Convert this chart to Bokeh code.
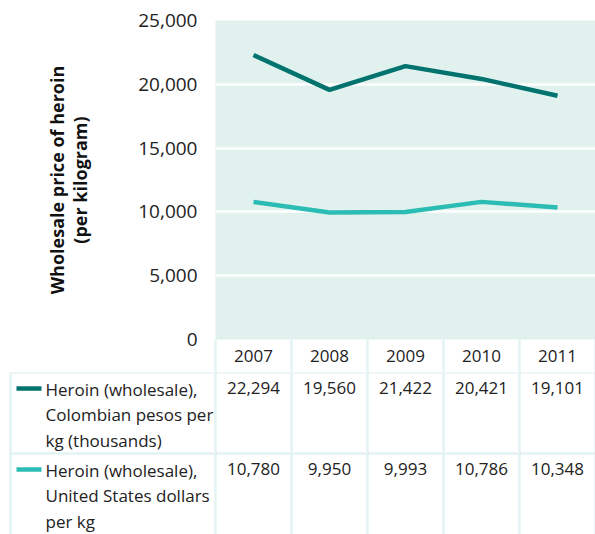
from bokeh.plotting import figure
from bokeh.models import FixedTicker, NumeralTickFormatter, Range1d
from bokeh.core.properties import value
from bokeh.embed import file_html
from bokeh.resources import INLINE

# ---------------- data ----------------
years = ["2007", "2008", "2009", "2010", "2011"]
cop_thousands = [22294, 19560, 21422, 20421, 19101]
usd = [10780, 9950, 9993, 10786, 10348]
series_labels = [
    "Heroin (wholesale),\nColombian pesos per\nkg (thousands)",
    "Heroin (wholesale),\nUnited States dollars\nper kg",
]
y_ticks = [0, 5000, 10000, 15000, 20000, 25000]
y_title = "Wholesale price of heroin\n(per kilogram)"

# ---------------- style ----------------
FONT = "Open Sans"
COLORS = ["#00736f", "#2bbcb3"]
BG = "#e1f2ee"
RULE = "#e3f2f2"
TXT = "#222222"

W = 595
LEFT = 215
TOP = 20
PLOT_H = 319
YEAR_ROW = 33
H1 = TOP + PLOT_H + YEAR_ROW
H2 = 534 - H1
ROW_H = 81

xs = list(range(len(years)))

p = figure(width=W, height=H1, x_range=Range1d(-0.5, len(years) - 0.5),
           y_range=Range1d(y_ticks[0], y_ticks[-1]),
           output_backend="svg", toolbar_location=None,
           min_border_left=LEFT, min_border_right=0, min_border_top=TOP,
           min_border_bottom=YEAR_ROW)
p.background_fill_color = BG
p.border_fill_color = "white"
p.outline_line_color = None
p.xgrid.grid_line_color = None
p.ygrid.grid_line_color = "white"
p.ygrid.grid_line_width = 2.5

for vals, col in zip([cop_thousands, usd], COLORS):
    p.line(xs, vals, line_color=col, line_width=4.5)

# y axis
p.yaxis.ticker = FixedTicker(ticks=y_ticks)
p.yaxis.formatter = NumeralTickFormatter(format="0,0")
p.yaxis.axis_line_color = None
p.yaxis.major_tick_line_color = None
p.yaxis.minor_tick_line_color = None
p.yaxis.major_tick_out = 0
p.yaxis.minor_tick_out = 0
p.yaxis.major_label_standoff = 18
p.yaxis.major_label_text_font = FONT
p.yaxis.major_label_text_font_size = "19px"
p.yaxis.major_label_text_color = TXT
p.yaxis.axis_label = y_title
p.yaxis.axis_label_text_font = FONT
p.yaxis.axis_label_text_font_style = "bold"
p.yaxis.axis_label_text_font_size = "18px"
p.yaxis.axis_label_text_color = "#111111"
p.yaxis.axis_label_text_line_height = 0.95
p.yaxis.axis_label_standoff = 43

# x axis = year row of the table
p.xaxis.ticker = FixedTicker(ticks=xs, minor_ticks=[x - 0.5 for x in xs] + [xs[-1] + 0.5])
p.xaxis.major_label_overrides = {x: y for x, y in zip(xs, years)}
p.xaxis.axis_line_color = None
p.xaxis.major_tick_line_color = None
p.xaxis.major_tick_out = 0
p.xaxis.major_label_standoff = 10 - YEAR_ROW
p.xaxis.minor_tick_in = 0
p.xaxis.minor_tick_out = YEAR_ROW
p.xaxis.minor_tick_line_color = RULE
p.xaxis.minor_tick_line_width = 2.5
p.xaxis.major_label_text_font = FONT
p.xaxis.major_label_text_font_size = "17px"
p.xaxis.major_label_text_color = TXT

# ---------------- table ----------------
t = figure(width=W, height=H2, x_range=Range1d(0, W), y_range=Range1d(H2, 0),
           output_backend="svg", toolbar_location=None,
           min_border=0, min_border_left=0, min_border_right=0,
           min_border_top=0, min_border_bottom=0)
t.axis.visible = False
t.grid.grid_line_color = None
t.outline_line_color = None
t.background_fill_color = "white"
t.border_fill_color = "white"

col_w = (W - LEFT) / len(years)
TABLE_LEFT = 10

hy = [i * ROW_H for i in range(len(series_labels))]
t.segment(x0=[TABLE_LEFT] * len(hy), y0=hy, x1=[W] * len(hy), y1=hy,
          line_color=RULE, line_width=2.5)
vx = [TABLE_LEFT] + [LEFT + i * col_w for i in range(len(years) + 1)]
t.segment(x0=vx, y0=[0] * len(vx), x1=vx, y1=[H2] * len(vx),
          line_color=RULE, line_width=2.5)

for r, (label, vals, col) in enumerate(zip(series_labels, [cop_thousands, usd], COLORS)):
    top = r * ROW_H
    t.segment(x0=[TABLE_LEFT + 6], y0=[top + 16], x1=[TABLE_LEFT + 31], y1=[top + 16],
              line_color=col, line_width=4.5)
    t.text(x=[TABLE_LEFT + 35], y=[top + 5], text=[label], text_font=value(FONT),
           text_font_size="17px", text_color=TXT, text_baseline="top",
           text_align="left", text_line_height=1.12)
    cx = [LEFT + (i + 0.5) * col_w for i in range(len(years))]
    t.text(x=cx, y=[top + 9] * len(cx), text=[f"{v:,}" for v in vals],
           text_font=value(FONT), text_font_size="17px", text_color=TXT,
           text_baseline="top", text_align="center")

open("out.html", "w").write(file_html([p, t], INLINE))
